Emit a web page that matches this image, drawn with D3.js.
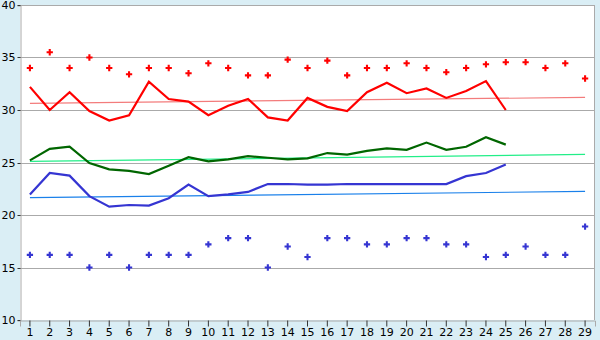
<!DOCTYPE html>
<html>
<head>
<meta charset="utf-8">
<script src="https://cdn.jsdelivr.net/npm/d3@7"></script>
<style>
  body { margin: 0; background: #daeef5; }
  svg { display: block; }
  .tick text { font-family: "DejaVu Sans", Verdana, sans-serif; font-size: 11px; fill: #000; }
</style>
</head>
<body>
<div id="chart"></div>
<script>
const days = d3.range(1, 30);

// daily series (first 25 days)
const maxTemp = [32.2, 30.0, 31.7, 29.9, 29.0, 29.5, 32.7, 31.05, 30.8, 29.5, 30.4, 31.05, 29.3,
                 29.0, 31.15, 30.3, 29.9, 31.7, 32.6, 31.6, 32.05, 31.15, 31.8, 32.75, 30.0];
const meanTemp = [25.2, 26.3, 26.5, 24.95, 24.35, 24.2, 23.9, 24.7, 25.5, 25.1, 25.3, 25.6, 25.45,
                  25.3, 25.4, 25.9, 25.75, 26.1, 26.35, 26.2, 26.9, 26.2, 26.5, 27.4, 26.7];
const minTemp = [21.95, 24.0, 23.75, 21.8, 20.8, 20.95, 20.9, 21.6, 22.9, 21.8, 21.97, 22.2, 22.95,
                 22.95, 22.9, 22.9, 22.95, 22.95, 22.95, 22.95, 22.95, 22.95, 23.7, 24.0, 24.8];

// record points for every day
const recordMax = [34, 35.5, 34, 35, 34, 33.4, 34, 34, 33.5, 34.45, 34, 33.3, 33.3, 34.8, 34,
                   34.7, 33.3, 34, 34, 34.45, 34, 33.6, 34, 34.35, 34.55, 34.55, 34, 34.45, 33.0];
const recordMin = [16.2, 16.2, 16.2, 15, 16.2, 15, 16.2, 16.2, 16.2, 17.2, 17.8, 17.8, 15, 17.0, 16.0,
                   17.8, 17.8, 17.2, 17.2, 17.8, 17.8, 17.2, 17.2, 16.0, 16.2, 17.0, 16.2, 16.2, 18.9];

// trend lines: [value at day 1, value at day 29]
const maxTrend = [30.63, 31.2];
const meanTrend = [25.1, 25.78];
const minTrend = [21.65, 22.25];

const yTicks = [10, 15, 20, 25, 30, 35, 40];

const width = 600, height = 340;
const plotLeft = 20, plotRight = 595, plotTop = 5, plotBottom = 320;

const svg = d3.select("#chart").append("svg")
  .attr("width", width)
  .attr("height", height);

const x = d3.scaleBand().domain(days).range([plotLeft, plotRight]);
const cx = d => x(d) + x.bandwidth() / 2;
const y = d3.scaleLinear().domain([10, 40]).range([plotBottom, plotTop]);

svg.append("rect")
  .attr("x", plotLeft).attr("y", plotTop)
  .attr("width", plotRight - plotLeft).attr("height", plotBottom - plotTop)
  .attr("fill", "#fff");

// grid
svg.append("g").selectAll("line")
  .data(yTicks.filter(t => t > 10))
  .enter().append("line")
  .attr("x1", plotLeft).attr("x2", plotRight)
  .attr("y1", d => Math.round(y(d)) + 0.5)
  .attr("y2", d => Math.round(y(d)) + 0.5)
  .attr("stroke", "#aaa");

svg.append("line")
  .attr("x1", plotRight - 0.5).attr("x2", plotRight - 0.5)
  .attr("y1", plotTop).attr("y2", plotBottom)
  .attr("stroke", "#aaa");

const yAxis = svg.append("g")
  .attr("transform", "translate(" + (plotLeft + 0.5) + ",0.5)")
  .call(d3.axisLeft(y).tickValues(yTicks).tickSize(3).tickPadding(2));
yAxis.select(".domain").attr("stroke", "#aaa");
yAxis.selectAll(".tick line").attr("stroke", "#333");
yAxis.selectAll(".tick").attr("transform", d => "translate(0," + Math.round(y(d)) + ")");

const xAxis = svg.append("g")
  .attr("transform", "translate(0," + (plotBottom + 0.5) + ")")
  .call(d3.axisBottom(x).tickSize(6).tickPadding(2));
xAxis.select(".domain").attr("stroke", "#aaa");
xAxis.selectAll(".tick line").attr("stroke", "#333");

// trend lines
const trends = [
  { vals: maxTrend, color: "#f37c7c" },
  { vals: meanTrend, color: "#22ee88" },
  { vals: minTrend, color: "#1a80ea" }
];
svg.append("g").selectAll("line")
  .data(trends)
  .enter().append("line")
  .attr("x1", cx(1)).attr("x2", cx(29))
  .attr("y1", d => y(d.vals[0])).attr("y2", d => y(d.vals[1]))
  .attr("stroke", d => d.color)
  .attr("stroke-width", 1.2);

// main series
const line = d3.line()
  .x((d, i) => cx(days[i]))
  .y(d => y(d));

const series = [
  { vals: maxTemp, color: "#ff0000" },
  { vals: meanTemp, color: "#006600" },
  { vals: minTemp, color: "#3535d2" }
];
svg.append("g").selectAll("path")
  .data(series)
  .enter().append("path")
  .attr("d", d => line(d.vals))
  .attr("fill", "none")
  .attr("stroke", d => d.color)
  .attr("stroke-width", 2.2);

// record markers
const cross = d3.symbol().type(d3.symbolCross).size(22);
const points = [
  { vals: recordMax, color: "#ff0000" },
  { vals: recordMin, color: "#3535d2" }
];
points.forEach(p => {
  svg.append("g").selectAll("path")
    .data(p.vals)
    .enter().append("path")
    .attr("d", cross)
    .attr("transform", (d, i) => "translate(" + cx(days[i]) + "," + y(d) + ")")
    .attr("fill", p.color);
});
</script>
</body>
</html>
